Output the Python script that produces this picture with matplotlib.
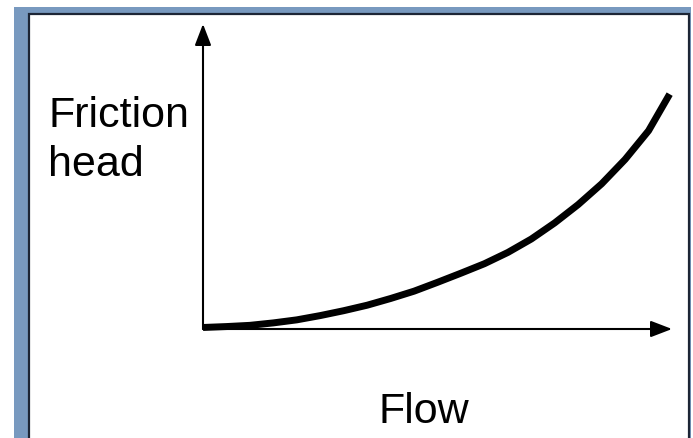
import matplotlib.pyplot as plt
from matplotlib.patches import Rectangle

plt.rcParams['font.family'] = ['Liberation Sans', 'DejaVu Sans']

# ================= data =================
flow = [0, 0.5, 1, 1.5, 2, 2.5, 3, 3.5, 4, 4.5, 5, 5.5, 6, 6.5, 7,
        7.5, 8, 8.5, 9, 9.5, 9.95]
head = [0.05, 0.08, 0.12, 0.20, 0.30, 0.44, 0.60, 0.78, 1.00, 1.24, 1.53,
        1.83, 2.14, 2.51, 2.95, 3.48, 4.08, 4.76, 5.56, 6.50, 7.70]
x_label = "Flow"
y_label = ["Friction", "head"]

W, H = 693, 439
fig = plt.figure(figsize=(W / 100, H / 100), dpi=100)
fig.patch.set_facecolor('white')

# slide-style frame: blue band + dark inner line (behind the axes)
fig.add_artist(Rectangle((14 / W, -0.1), 677 / W, (H - 8) / H + 0.1,
                         transform=fig.transFigure, facecolor='#7899bf',
                         edgecolor='none', zorder=-3))
fig.add_artist(Rectangle((29 / W, -0.1), 660 / W, (H - 15) / H + 0.1,
                         transform=fig.transFigure, facecolor='white',
                         edgecolor='#1c2535', lw=1.6, zorder=-2))

# ================= axes =================
ax = fig.add_axes([203 / W, (H - 330) / H, 469 / W, 305 / H])
ax.set_xlim(0, 10)
ax.set_ylim(0, 10)
ax.axis('off')

arrow = dict(arrowstyle='-|>,head_length=0.65,head_width=0.25', lw=1.5,
             color='black', shrinkA=0, shrinkB=0, mutation_scale=20)
ax.annotate('', xy=(0, 10), xytext=(0, 0), arrowprops=arrow, annotation_clip=False)
ax.annotate('', xy=(10, 0), xytext=(0, 0), arrowprops=arrow, annotation_clip=False)

ax.plot(flow, head, color='black', lw=5, solid_capstyle='butt',
        solid_joinstyle='round', clip_on=False)

# labels
fig.text(48 / W, 1 - 127 / H, y_label[0], fontsize=31, va='baseline', ha='left')
fig.text(48 / W, 1 - 176 / H, y_label[1], fontsize=31, va='baseline', ha='left')
fig.text(378 / W, 1 - 423 / H, x_label, fontsize=31, va='baseline', ha='left')

fig.savefig('out.png', dpi=100)
